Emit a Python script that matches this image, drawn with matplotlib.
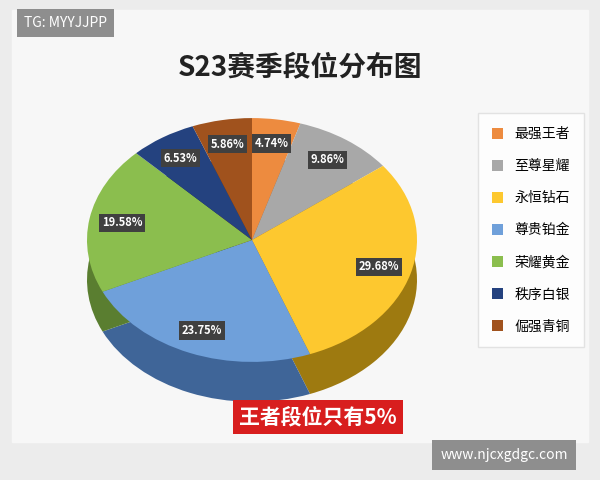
import matplotlib
matplotlib.use("Agg")
import matplotlib.pyplot as plt

plt.rcParams['font.family'] = ['Noto Sans CJK SC', 'DejaVu Sans']

categories = ["最强王者", "至尊星耀", "永恒钻石", "尊贵铂金", "荣耀黄金", "秩序白银", "倔强青铜"]
values = [4.74, 9.86, 29.68, 23.75, 19.58, 6.53, 5.86]
colors = ["#ED8B3F", "#A8A8A8", "#FDC82F", "#6FA0DA", "#8BBE4E", "#24427F", "#A0521D"]
dark = ["#A85E25", "#6E6E6E", "#9E7A10", "#3F6598", "#5A7E30", "#142850", "#6A3410"]

fig = plt.figure(figsize=(6, 4.8), dpi=100)
fig.patch.set_facecolor("#ECECEC")
bg = fig.add_axes([0, 0, 1, 1]); bg.axis("off")
bg.add_patch(plt.Rectangle((0.02, 0.08), 0.96, 0.9, color="#F7F7F7", transform=bg.transAxes))

# depth layer
axd = fig.add_axes([0.145, 0.163, 0.55, 0.508])
axd.pie(values, colors=dark, startangle=90, counterclock=False)
axd.set_aspect('auto'); axd.set_xlim(-1, 1); axd.set_ylim(-1, 1)

ax = fig.add_axes([0.145, 0.246, 0.55, 0.508])
wedges, _, autotexts = ax.pie(values, colors=colors, startangle=90, counterclock=False,
                              autopct=lambda p: f"{p:.2f}%", pctdistance=0.8,
                              textprops=dict(color="white", fontsize=8, fontweight="bold"))
for t in autotexts:
    t.set_bbox(dict(boxstyle="square,pad=0.25", fc="#404040", ec="none"))
ax.set_aspect('auto'); ax.set_xlim(-1, 1); ax.set_ylim(-1, 1)

fig.text(0.5, 0.858, "S23赛季段位分布图", ha="center", va="center", fontsize=20, fontweight="bold", color="#222222")

leg = fig.legend(wedges, categories, loc="center", bbox_to_anchor=(0.885, 0.52), frameon=True,
                 fontsize=10, handlelength=0.8, handleheight=0.8, labelspacing=1.3,
                 fancybox=False, edgecolor="#DDDDDD", borderpad=1.0)

fig.text(0.53, 0.131, "王者段位只有5%", ha="center", va="center", fontsize=15, fontweight="bold",
         color="white", bbox=dict(boxstyle="square,pad=0.3", fc="#D81E1E", ec="none"))
fig.text(0.04, 0.952, "TG: MYYJJPP", ha="left", va="center", fontsize=10, color="white",
         bbox=dict(boxstyle="square,pad=0.5", fc="#8E8E8E", ec="none"))
fig.text(0.84, 0.052, "www.njcxgdgc.com", ha="center", va="center", fontsize=10, color="white",
         bbox=dict(boxstyle="square,pad=0.6", fc="#8E8E8E", ec="none"))

fig.savefig("out.png", dpi=100, facecolor=fig.get_facecolor())
